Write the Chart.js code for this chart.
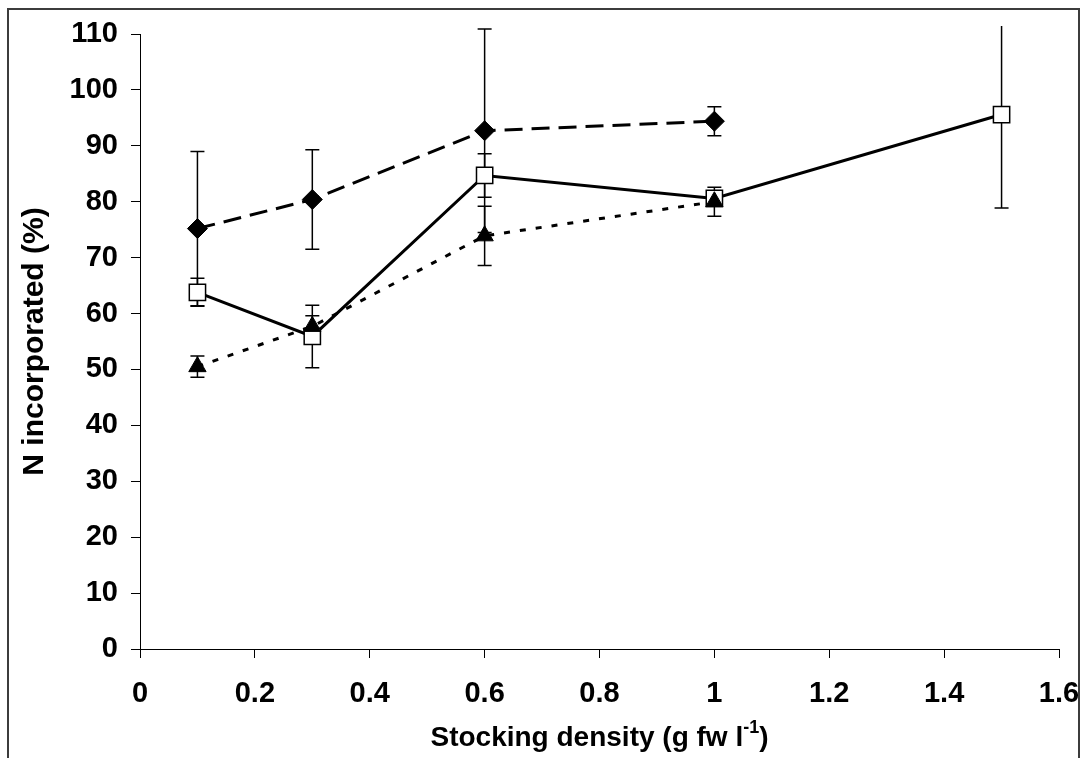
<!DOCTYPE html>
<html>
<head>
<meta charset="utf-8">
<script src="https://cdn.jsdelivr.net/npm/chart.js@4.4.1/dist/chart.umd.min.js"></script>
<style>
body{margin:0;background:#fff;}
#frame{position:absolute;left:7px;top:8px;width:1073px;height:800px;border:2px solid #3c3c3c;box-sizing:border-box;}
#wrap{position:absolute;left:0;top:0;width:1083px;height:758px;}
</style>
</head>
<body>
<div id="frame"></div>
<div id="wrap"><canvas id="nChart" width="1083" height="758"></canvas></div>
<script>
// diamonds, dashed line
const densityDiamond = [0.1, 0.3, 0.6, 1.0];
const nDiamond = [75.2, 80.4, 92.7, 94.4];
const errDiamond = [13.8, 8.9, 18.2, 2.6];

// open squares, solid line
const densitySquare = [0.1, 0.3, 0.6, 1.0, 1.5];
const nSquare = [63.8, 55.9, 84.7, 80.6, 95.6];
const errSquare = [2.5, 5.6, 3.9, 1.3, 16.7];

// triangles, dotted line
const densityTriangle = [0.1, 0.3, 0.6, 1.0];
const nTriangle = [50.5, 57.7, 73.9, 80.0];
const errTriangle = [1.9, 1.9, 5.3, 2.6];

const xTicks = [0, 0.2, 0.4, 0.6, 0.8, 1, 1.2, 1.4, 1.6];
const yTicks = [0, 10, 20, 30, 40, 50, 60, 70, 80, 90, 100, 110];

Chart.defaults.font.family = '"Liberation Sans", Arial, sans-serif';
Chart.defaults.color = '#000';

function pts(xs, ys, errs){
  return xs.map((x, i) => ({x: x, y: ys[i], err: errs[i]}));
}

// vertical error bars with caps, drawn under the markers
const errorBars = {
  id: 'errorBars',
  beforeDatasetsDraw(chart){
    const ctx = chart.ctx;
    const xs = chart.scales.x, ys = chart.scales.y;
    const a = chart.chartArea;
    ctx.save();
    ctx.beginPath();
    ctx.rect(a.left, a.top - 8, a.right - a.left, a.bottom - a.top + 8);
    ctx.clip();
    ctx.strokeStyle = '#000';
    ctx.lineWidth = 1.5;
    chart.data.datasets.forEach(ds => {
      ds.data.forEach(p => {
        const px = xs.getPixelForValue(p.x);
        const top = ys.getPixelForValue(p.y + p.err);
        const bot = ys.getPixelForValue(p.y - p.err);
        ctx.beginPath();
        ctx.moveTo(px, top); ctx.lineTo(px, bot);
        ctx.moveTo(px - 7, top); ctx.lineTo(px + 7, top);
        ctx.moveTo(px - 7, bot); ctx.lineTo(px + 7, bot);
        ctx.stroke();
      });
    });
    ctx.restore();
  }
};

// x title with superscript -1
const xTitle = {
  id: 'xTitle',
  afterDraw(chart){
    const ctx = chart.ctx;
    const a = chart.chartArea;
    const main = 'bold 28px "Liberation Sans", Arial, sans-serif';
    const sup = 'bold 18px "Liberation Sans", Arial, sans-serif';
    const t1 = 'Stocking density (g fw l', t2 = '-1', t3 = ')';
    ctx.save();
    ctx.fillStyle = '#000';
    ctx.textBaseline = 'alphabetic';
    ctx.font = main;
    const w1 = ctx.measureText(t1).width, w3 = ctx.measureText(t3).width;
    ctx.font = sup;
    const w2 = ctx.measureText(t2).width;
    let x = (a.left + a.right) / 2 - (w1 + w2 + w3) / 2;
    const y = 746;
    ctx.font = main; ctx.fillText(t1, x, y); x += w1;
    ctx.font = sup; ctx.fillText(t2, x, y - 13); x += w2;
    ctx.font = main; ctx.fillText(t3, x, y);
    ctx.restore();
  }
};

const ctx = document.getElementById('nChart');

new Chart(ctx, {
  type: 'scatter',
  data: {
    datasets: [
      {
        label: 'triangles',
        data: pts(densityTriangle, nTriangle, errTriangle),
        showLine: true,
        borderColor: '#000',
        borderWidth: 3,
        borderDash: [6, 10],
        pointStyle: 'triangle',
        pointRadius: 10,
        pointBackgroundColor: '#000',
        pointBorderColor: '#000',
        pointBorderWidth: 1
      },
      {
        label: 'squares',
        data: pts(densitySquare, nSquare, errSquare),
        showLine: true,
        borderColor: '#000',
        borderWidth: 3,
        pointStyle: 'rect',
        pointRadius: 11.5,
        pointBackgroundColor: '#fff',
        pointBorderColor: '#000',
        pointBorderWidth: 1.5
      },
      {
        label: 'diamonds',
        data: pts(densityDiamond, nDiamond, errDiamond),
        showLine: true,
        borderColor: '#000',
        borderWidth: 3,
        borderDash: [18, 9],
        pointStyle: 'rectRot',
        pointRadius: 10,
        pointBackgroundColor: '#000',
        pointBorderColor: '#000',
        pointBorderWidth: 1
      }
    ]
  },
  options: {
    responsive: false,
    animation: false,
    layout: {padding: {left: 0, top: 34, right: 0, bottom: 0}},
    plugins: {legend: {display: false}, tooltip: {enabled: false}},
    scales: {
      x: {
        type: 'linear',
        min: 0, max: 1.6,
        afterBuildTicks: s => { s.ticks = xTicks.map(v => ({value: v})); },
        afterFit: s => { s.height = 109; s.paddingRight = 24; },
        ticks: {
          padding: 19,
          font: {size: 29, weight: 'bold'},
          callback: v => String(+v.toFixed(1))
        },
        grid: {drawOnChartArea: false, drawTicks: true, tickLength: 9, color: '#000'},
        border: {display: true, color: '#000', width: 1}
      },
      y: {
        min: 0, max: 110,
        afterBuildTicks: s => { s.ticks = yTicks.map(v => ({value: v})); },
        afterFit: s => { s.width = 140; },
        ticks: {
          padding: 13,
          font: {size: 29, weight: 'bold'}
        },
        grid: {drawOnChartArea: false, drawTicks: true, tickLength: 9, color: '#000'},
        border: {display: true, color: '#000', width: 1},
        title: {
          display: true,
          text: 'N incorporated (%)',
          font: {size: 30, weight: 'bold'},
          padding: {top: 17, bottom: 0}
        }
      }
    }
  },
  plugins: [errorBars, xTitle]
});
</script>
</body>
</html>
